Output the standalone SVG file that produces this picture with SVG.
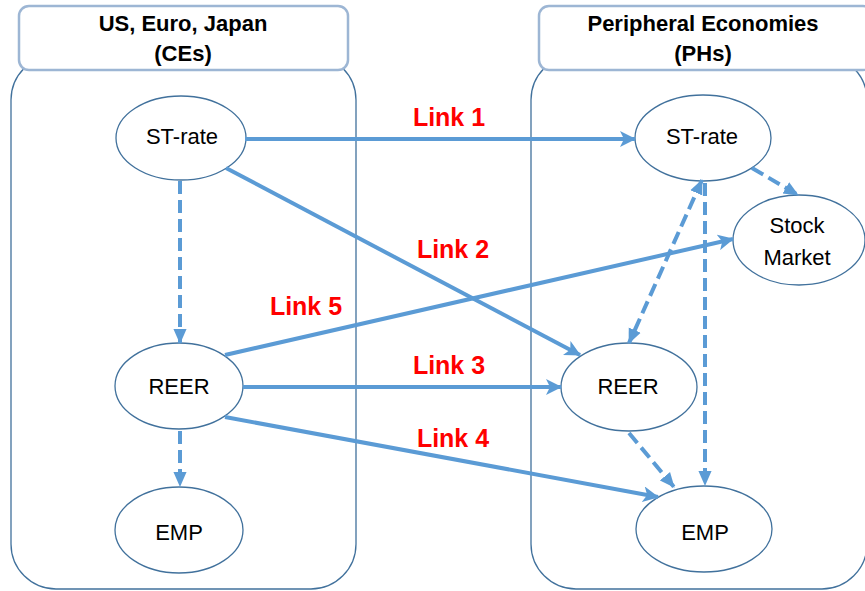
<svg xmlns="http://www.w3.org/2000/svg" width="865" height="591" viewBox="0 0 865 591">
<style>
.body{fill:none;stroke:#41719C;stroke-width:1.3}
.head{fill:#fff;stroke:#9DB6D4;stroke-width:2.5}
.htxt{font-family:"Liberation Sans",Arial,sans-serif;font-weight:bold;font-size:22px;fill:#000;text-anchor:middle}
.node ellipse{fill:#fff;stroke:#41719C;stroke-width:1.3}
.node text{font-family:"Liberation Sans",Arial,sans-serif;font-size:22px;fill:#000;text-anchor:middle}
.c{fill:none;stroke:#5B9BD5;stroke-width:4}
.d{stroke-dasharray:13 6}
.lbl{font-family:"Liberation Sans",Arial,sans-serif;font-weight:bold;font-size:25px;fill:#FF0000;text-anchor:middle}
</style>
<defs>
<marker id="ah" viewBox="0 0 16 16" refX="15" refY="8" markerWidth="16" markerHeight="16" markerUnits="userSpaceOnUse" orient="auto">
<path d="M0,0 L16,8 L0,16 L4,8 z" fill="#5B9BD5"/>
</marker>
<marker id="ahs" viewBox="0 0 16 16" refX="15" refY="8" markerWidth="15" markerHeight="15" markerUnits="userSpaceOnUse" orient="auto-start-reverse">
<path d="M0,1 L16,8 L0,15 z" fill="#5B9BD5"/>
</marker>
</defs>
<g id="ces-group">
<rect class="body" x="11" y="55" width="345" height="534" rx="45" ry="45"/>
<rect class="head" x="19" y="6" width="329" height="64" rx="10" ry="10"/>
<text class="htxt" x="183" y="31">US, Euro, Japan</text>
<text class="htxt" x="183" y="61">(CEs)</text>
</g>
<g id="phs-group">
<rect class="body" x="531" y="55" width="336" height="534" rx="45" ry="45"/>
<rect class="head" x="539" y="6" width="334" height="64" rx="10" ry="10"/>
<text class="htxt" x="703" y="31">Peripheral Economies</text>
<text class="htxt" x="703" y="61">(PHs)</text>
</g>
<g id="ce-strate" class="node"><ellipse cx="181" cy="138" rx="65" ry="42"/><text x="182" y="144">ST-rate</text></g>
<g id="ce-reer" class="node"><ellipse cx="179" cy="386" rx="64" ry="43"/><text x="179" y="394">REER</text></g>
<g id="ce-emp" class="node"><ellipse cx="179" cy="530" rx="64" ry="43"/><text x="179" y="540">EMP</text></g>
<g id="ph-strate" class="node"><ellipse cx="703" cy="138" rx="68" ry="43"/><text x="702" y="144">ST-rate</text></g>
<g id="ph-stock" class="node"><ellipse cx="799" cy="240" rx="66" ry="45"/><text x="797" y="233">Stock</text><text x="797" y="265">Market</text></g>
<g id="ph-reer" class="node"><ellipse cx="629" cy="387" rx="68" ry="44"/><text x="628" y="394">REER</text></g>
<g id="ph-emp" class="node"><ellipse cx="704" cy="529" rx="68" ry="43"/><text x="705" y="540">EMP</text></g>
<g id="connectors">
<line class="c" x1="245" y1="139" x2="635" y2="139" marker-end="url(#ah)"/>
<line class="c" x1="226" y1="168" x2="580" y2="355" marker-end="url(#ah)"/>
<line class="c" x1="243" y1="387" x2="561" y2="387" marker-end="url(#ah)"/>
<line class="c" x1="225" y1="417" x2="658" y2="497" marker-end="url(#ah)"/>
<line class="c" x1="225" y1="355" x2="733" y2="239" marker-end="url(#ah)"/>
<line class="c d" x1="180" y1="181" x2="180" y2="343" marker-end="url(#ahs)"/>
<line class="c d" x1="180" y1="431" x2="180" y2="486" marker-end="url(#ahs)"/>
<line class="c d" x1="752" y1="168" x2="798" y2="195" marker-end="url(#ahs)"/>
<line class="c d" x1="702" y1="180" x2="629" y2="343" marker-start="url(#ahs)" marker-end="url(#ahs)"/>
<line class="c d" x1="705" y1="183" x2="705" y2="485" marker-end="url(#ahs)"/>
<line class="c d" x1="629" y1="433" x2="674" y2="487" marker-end="url(#ahs)"/>
</g>
<g id="labels">
<text class="lbl" x="449" y="126">Link 1</text>
<text class="lbl" x="453" y="258">Link 2</text>
<text class="lbl" x="306" y="315">Link 5</text>
<text class="lbl" x="449" y="374">Link 3</text>
<text class="lbl" x="453" y="447">Link 4</text>
</g>
</svg>
